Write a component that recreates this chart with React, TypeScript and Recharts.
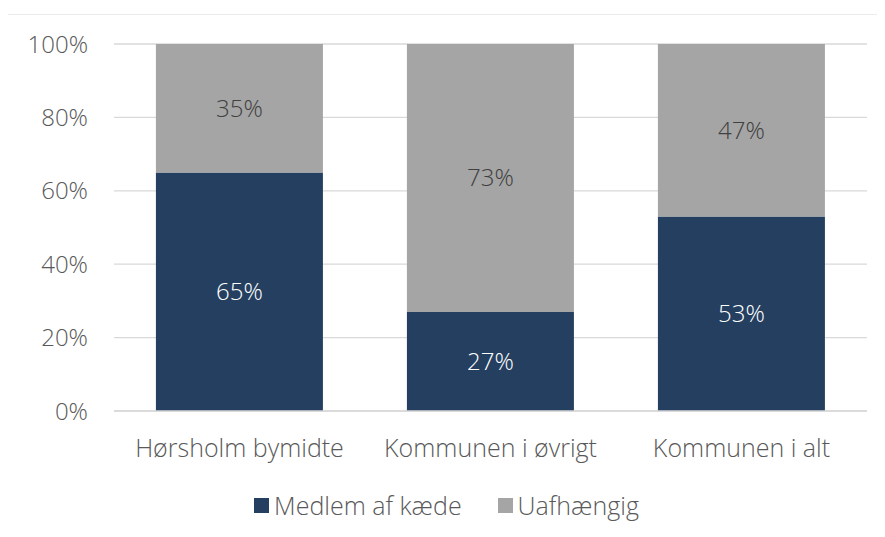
import { BarChart, Bar, XAxis, YAxis, CartesianGrid, LabelList } from 'recharts';

const categories = ['Hørsholm bymidte', 'Kommunen i øvrigt', 'Kommunen i alt'];
const medlemAfKaede = [65, 27, 53];
const uafhaengig = [35, 73, 47];
const yTicks = [0, 20, 40, 60, 80, 100];

const NAVY = '#253F60';
const GRAY = '#A5A5A5';
const FONT = "'Open Sans', sans-serif";
const FS = 24;

const data = categories.map((name, i) => ({
    name,
    medlem: medlemAfKaede[i],
    uafh: uafhaengig[i],
}));

const pct = (v: any) => `${v}%`;

export default function App() {
    return (
        <div style={{ position: 'relative', width: 877, height: 529, fontFamily: FONT, fontWeight: 300 }}>
            <div
                style={{
                    position: 'absolute',
                    left: -1,
                    top: 6,
                    width: 877,
                    height: 522,
                    borderTop: '1px solid #ebebeb',
                    borderLeft: '1px solid #ebebeb',
                    borderRight: '1px solid #ebebeb',
                }}
            />
            <BarChart
                width={877}
                height={529}
                data={data}
                margin={{ top: 36, right: 18, left: 0, bottom: 66 }}
                barCategoryGap="16.7%"
            >
                <CartesianGrid vertical={false} stroke="#d9d9d9" strokeWidth={1.3} />
                <XAxis
                    dataKey="name"
                    height={60}
                    tickSize={0}
                    tickMargin={28}
                    axisLine={{ stroke: '#d9d9d9', strokeWidth: 1.3 }}
                    tick={{ fill: '#595959', fontSize: 25, fontFamily: FONT, fontWeight: 300 }}
                />
                <YAxis
                    width={106}
                    domain={[0, 100]}
                    ticks={yTicks}
                    tickFormatter={pct}
                    tickSize={0}
                    tickMargin={26}
                    axisLine={false}
                    tick={{ fill: '#595959', fontSize: FS, fontFamily: FONT, fontWeight: 300 }}
                />
                <Bar dataKey="medlem" stackId="a" fill={NAVY} isAnimationActive={false}>
                    <LabelList
                        dataKey="medlem"
                        position="center"
                        formatter={pct}
                        fill="#ffffff"
                        style={{ fontSize: FS, fontFamily: FONT, fontWeight: 300 }}
                    />
                </Bar>
                <Bar dataKey="uafh" stackId="a" fill={GRAY} isAnimationActive={false}>
                    <LabelList
                        dataKey="uafh"
                        position="center"
                        formatter={pct}
                        fill="#404040"
                        style={{ fontSize: FS, fontFamily: FONT, fontWeight: 300 }}
                    />
                </Bar>
            </BarChart>
            <div
                style={{
                    position: 'absolute',
                    top: 483,
                    left: 0,
                    width: 877,
                    display: 'flex',
                    justifyContent: 'center',
                    gap: 36,
                    fontSize: 25,
                    lineHeight: '28px',
                    color: '#595959',
                }}
            >
                {[
                    { label: 'Medlem af kæde', color: NAVY },
                    { label: 'Uafhængig', color: GRAY },
                ].map((item) => (
                    <div key={item.label} style={{ display: 'flex', alignItems: 'center', gap: 5 }}>
                        <span style={{ width: 15, height: 15, background: item.color, display: 'inline-block' }} />
                        <span>{item.label}</span>
                    </div>
                ))}
            </div>
        </div>
    );
}
